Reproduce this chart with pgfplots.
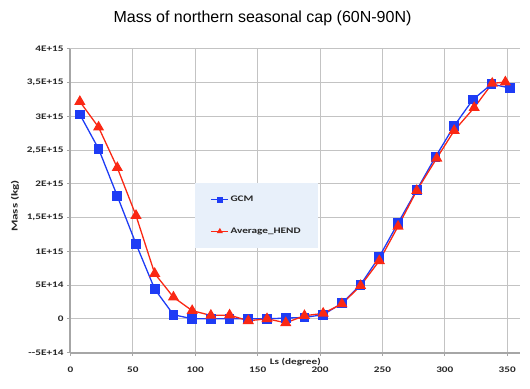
\documentclass[border=0pt]{standalone}
\usepackage{pgfplots}
\pgfplotsset{compat=1.18}
\usepackage{fontspec}
\setmainfont{Carlito}
\newfontfamily\lblfont[FakeStretch=1.32]{Carlito}
\newfontfamily\ylblfont[FakeStretch=1.45]{Carlito}
\newfontfamily\titlefont{Liberation Sans}
\definecolor{myblue}{RGB}{30,60,245}
\definecolor{myred}{RGB}{250,40,20}
\definecolor{legbg}{RGB}{232,240,250}
\definecolor{gridgray}{RGB}{195,195,195}
\definecolor{axgray}{RGB}{166,166,166}
\pgfplotstableread{
x y
7.5 3.03e15
22.5 2.52e15
37.5 1.82e15
52.5 1.11e15
67.5 4.4e14
82.5 6e13
97.5 0
112.5 0
127.5 0
142.5 0
157.5 0
172.5 1e13
187.5 2e13
202.5 6e13
217.5 2.3e14
232.5 5.06e14
247.5 9.2e14
262.5 1.42e15
277.5 1.91e15
292.5 2.40e15
307.5 2.86e15
322.5 3.25e15
337.5 3.48e15
352.5 3.42e15
}\gcm
\pgfplotstableread{
x y
7.5 3.22e15
22.5 2.84e15
37.5 2.24e15
52.5 1.53e15
67.5 6.7e14
82.5 3.2e14
97.5 1.2e14
112.5 5e13
127.5 5.5e13
142.5 -3e13
157.5 0
172.5 -6e13
187.5 4.5e13
202.5 8e13
217.5 2.2e14
232.5 4.9e14
247.5 8.6e14
262.5 1.37e15
277.5 1.90e15
293.5 2.38e15
307.5 2.79e15
323.5 3.13e15
338 3.49e15
348.5 3.51e15
}\hend
\begin{document}
\begin{tikzpicture}
\begin{axis}[
  scale only axis, width=449.2bp, height=303.5bp,
  xmin=0, xmax=360, ymin=-5e14, ymax=4e15,
  axis x line*=bottom, axis y line*=left,
  axis line style={-, draw=axgray, line width=2bp},
  xtick={0,50,100,150,200,250,300,350},
  xticklabels={0,50,100,150,200,250,300,350},
  ytick={-5e14,0,5e14,1e15,1.5e15,2e15,2.5e15,3e15,3.5e15,4e15},
  yticklabels={--5E+14,0,5E+14,1E+15,{1,5E+15},2E+15,{2,5E+15},3E+15,{3,5E+15},4E+15},
  scaled y ticks=false,
  tick align=outside, major tick length=3.5bp,
  tick style={draw=axgray, line width=1bp},
  grid=major, major grid style={draw=gridgray, line width=1bp},
  tick label style={font=\lblfont\bfseries\fontsize{8.5bp}{10bp}\selectfont, text=black!85},
  xticklabel style={yshift=-7bp},
  every axis title shift=0pt,
  title={Mass of northern seasonal cap (60N-90N)},
  title style={at={(axis description cs:0.4274,1.101)}, anchor=center,
    font=\titlefont\fontsize{16bp}{18bp}\selectfont},
  xlabel={Ls (degree)},
  xlabel style={at={(axis description cs:0.5005,0)}, anchor=center, yshift=-9.2bp,
    font=\lblfont\bfseries\fontsize{8.5bp}{10bp}\selectfont, text=black!85},
  ylabel={Mass (kg)},
  ylabel style={at={(axis description cs:-0.1236,0.4827)}, anchor=center,
    font=\ylblfont\bfseries\fontsize{9bp}{10bp}\selectfont, text=black!85},
  legend cell align=left,
  legend style={at={(axis description cs:0.2772,0.5595)}, anchor=north west,
    fill=legbg, draw=none, inner xsep=15.5bp, inner ysep=11.8bp,
    row sep=21.6bp, nodes={inner sep=1.5bp}, text=black!85,
    font=\lblfont\bfseries\fontsize{8.5bp}{10bp}\selectfont},
  legend image code/.code={\draw[mark repeat=2,mark phase=2,#1,mark size=2.2bp]
    plot coordinates {(0bp,0bp) (8.5bp,0bp) (17bp,0bp)};},
]
\coordinate (sw) at (rel axis cs:0,0);
\addplot[myblue, line width=1.3bp, mark=square*, mark size=4.2bp, mark options={solid}] table {\gcm};
\addlegendentry{GCM}
\addplot[myred, line width=1.3bp, mark=triangle*, mark size=5.2bp, mark options={solid}] table {\hend};
\addlegendentry{Average\_HEND}
\end{axis}
\pgfresetboundingbox
\path[use as bounding box] ([shift={(-70.5bp,-36.5bp)}]sw) rectangle ++(530bp,389bp);
\end{tikzpicture}
\end{document}
